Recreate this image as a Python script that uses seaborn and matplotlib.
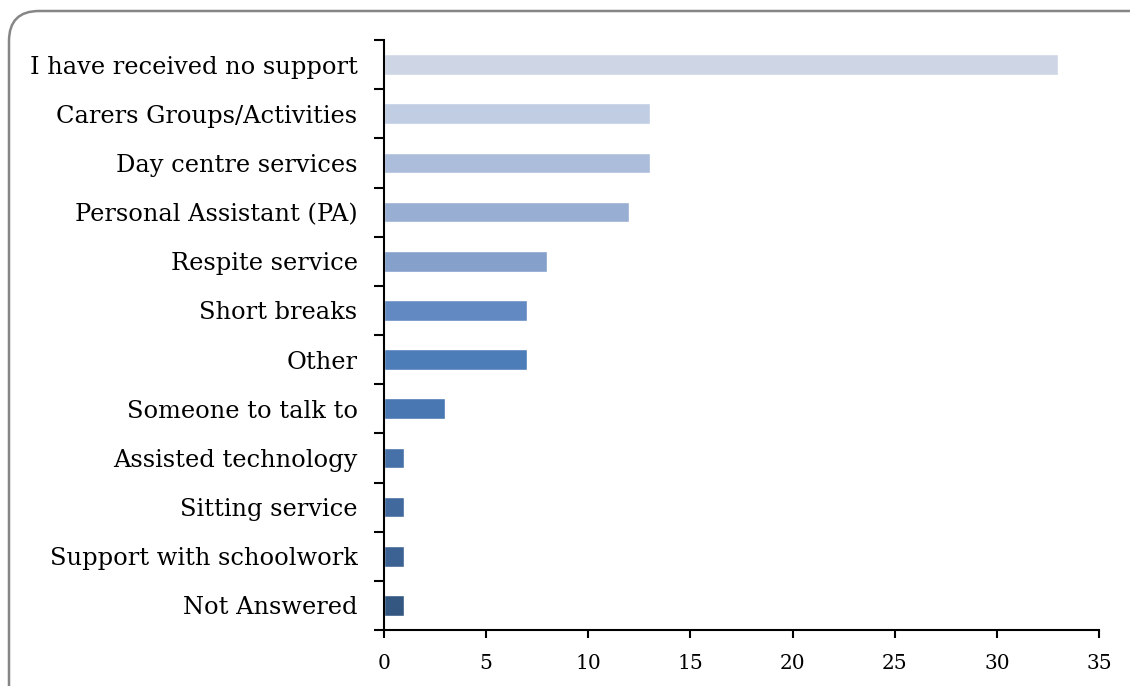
import matplotlib
matplotlib.use("Agg")
import matplotlib.pyplot as plt
import seaborn as sns
import pandas as pd
from matplotlib.patches import FancyBboxPatch
from matplotlib.transforms import IdentityTransform
from matplotlib.ticker import FixedLocator

categories = [
    "I have received no support",
    "Carers Groups/Activities",
    "Day centre services",
    "Personal Assistant (PA)",
    "Respite service",
    "Short breaks",
    "Other",
    "Someone to talk to",
    "Assisted technology",
    "Sitting service",
    "Support with schoolwork",
    "Not Answered",
]
counts = [33, 13, 13, 12, 8, 7, 7, 3, 1, 1, 1, 1]
bar_colors = [
    "#CED6E6", "#C1CDE3", "#ACBCDB", "#98AED3", "#84A0CB", "#6389C2",
    "#4C7DB9", "#4977B1", "#4670A8", "#41699E", "#3C6294", "#345782",
]
x_ticks = [0, 5, 10, 15, 20, 25, 30, 35]

sns.set_theme(style="white")
plt.rcParams["font.family"] = ["DejaVu Serif"]
plt.rcParams["text.color"] = "black"
plt.rcParams["xtick.color"] = "black"
plt.rcParams["ytick.color"] = "black"

df = pd.DataFrame({"category": categories, "count": counts})

fig = plt.figure(figsize=(11.30, 6.86), dpi=100)
ax = fig.add_axes([384 / 1130, 1 - 630 / 686, 715 / 1130, 590 / 686])

sns.barplot(
    data=df, x="count", y="category", hue="category",
    palette=bar_colors, order=categories, hue_order=categories,
    orient="h", width=0.42, legend=False, ax=ax, saturation=1,
)

ax.set_xlim(0, 35)
ax.set_ylim(len(categories) - 0.5, -0.5)
ax.set_xticks(x_ticks)
ax.set_xticklabels([str(t) for t in x_ticks], fontsize=14.5)
ax.set_xlabel("")
ax.set_ylabel("")
ax.tick_params(axis="y", which="major", length=0, pad=19, labelsize=17.4)
ax.yaxis.set_minor_locator(FixedLocator([i - 0.5 for i in range(len(categories) + 1)]))
ax.tick_params(axis="y", which="minor", length=7, width=1.5, color="black", direction="out", left=True)
ax.tick_params(axis="x", which="major", length=6, width=1.5, color="black", direction="out", bottom=True, pad=11)

for side in ("top", "right"):
    ax.spines[side].set_visible(False)
for side in ("left", "bottom"):
    ax.spines[side].set_color("black")
    ax.spines[side].set_linewidth(1.5)

# rounded frame around the chart area
frame = FancyBboxPatch(
    (9 + 30, -40), 1200, 686 - 11 + 40 - 30,
    boxstyle="round,pad=30", transform=IdentityTransform(),
    facecolor="none", edgecolor="#868686", linewidth=1.8, zorder=-1,
)
fig.patches.append(frame)

fig.savefig("out.png", dpi=100)
